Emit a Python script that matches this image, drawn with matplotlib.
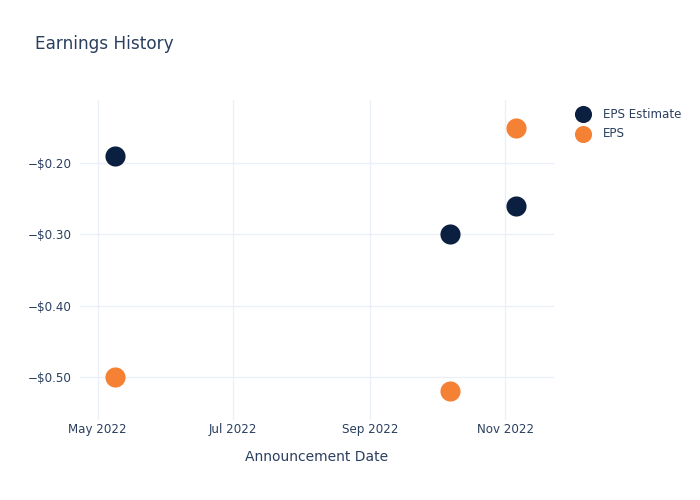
import numpy as np
import matplotlib.pyplot as plt
import matplotlib.dates as mdates
from matplotlib.ticker import FuncFormatter

dates = np.array(['2022-05-09', '2022-10-07', '2022-11-06'], dtype='datetime64[D]')
eps_estimate = [-0.19, -0.30, -0.26]
eps_actual = [-0.50, -0.52, -0.15]

text_col = '#2a3f5f'
grid_col = '#ebf0f8'
navy = '#0b1f41'
orange = '#f58134'

fig = plt.figure(figsize=(7, 5), dpi=100)
ax = fig.add_axes([80/700, 80/500, 474/700, 320/500])

ax.scatter(dates, eps_estimate, s=210, color=navy, label='EPS Estimate', zorder=3, linewidths=0)
ax.scatter(dates, eps_actual, s=210, color=orange, label='EPS', zorder=3, linewidths=0)

ax.set_xlim(np.datetime64('2022-04-23'), np.datetime64('2022-11-23'))
ax.set_ylim(-0.561, -0.111)
ax.set_yticks([-0.5, -0.4, -0.3, -0.2])
ax.yaxis.set_major_formatter(FuncFormatter(lambda v, p: ('\u2212' if v < 0 else '') + '$%.2f' % abs(v)))
ax.set_xticks(np.array(['2022-05-01', '2022-07-01', '2022-09-01', '2022-11-01'], dtype='datetime64[D]'))
ax.xaxis.set_major_formatter(mdates.DateFormatter('%b %Y'))

ax.grid(True, color=grid_col, linewidth=1)
ax.set_axisbelow(True)
for s in ax.spines.values():
    s.set_visible(False)
ax.tick_params(axis='y', length=0, labelsize=8.6, colors=text_col, pad=6)
ax.tick_params(axis='x', length=0, labelsize=8.6, colors=text_col, pad=2)

ax.set_xlabel('Announcement Date', fontsize=10, color=text_col, labelpad=10.5)
fig.text(35/700, 1 - 44/500, 'Earnings History', fontsize=12.2, color=text_col, va='center')

leg = ax.legend(loc='upper left', bbox_to_anchor=(1.013, 1.01), frameon=False, fontsize=8.6,
                labelcolor=text_col, handletextpad=0.7, labelspacing=0.55, markerscale=0.85)

fig.savefig('out.png', dpi=100)
